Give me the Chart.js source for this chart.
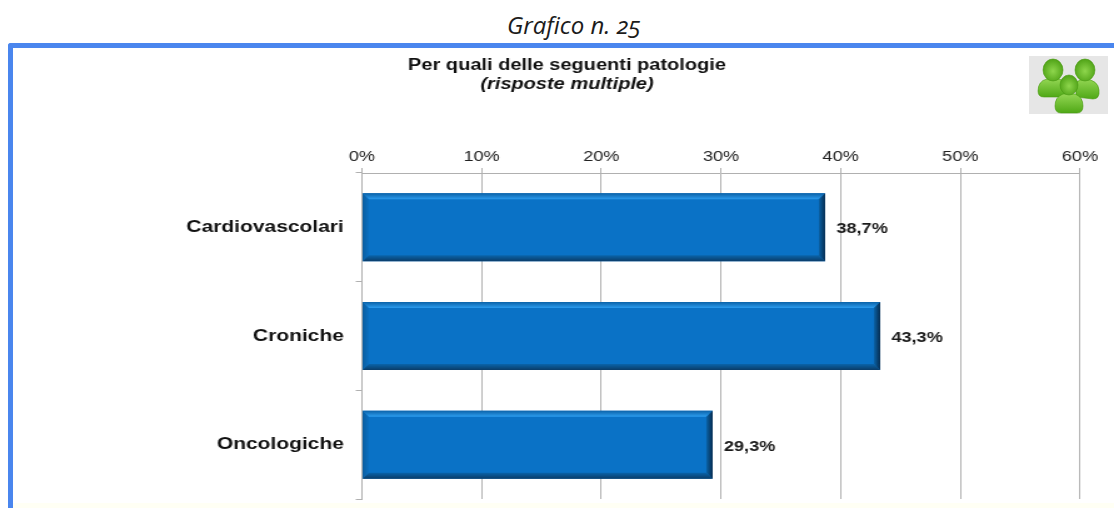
<!DOCTYPE html>
<html>
<head>
<meta charset="utf-8">
<style>
    html, body { margin: 0; padding: 0; background: #fff; overflow: hidden; }
    #page { position: relative; width: 1114px; height: 508px; overflow: hidden; }
    #caption { position: absolute; left: 0; width: 1148px; top: 8px; text-align: center; font: italic 24px "Open Sans"; font-variant-numeric: oldstyle-nums; color: #1c1c1c; }
    #frame { position: absolute; left: 8px; top: 43px; width: 1200px; height: 600px; box-sizing: border-box; border-left: 5px solid #4a86ee; border-top: 5px solid #4a86ee; border-top-left-radius: 3px; }
    #floor { position: absolute; left: 13px; right: 0; top: 503px; height: 5px; background: #fffff4; }
    #icon { position: absolute; left: 1029px; top: 56px; width: 79px; height: 58px; background: #e6e6e6; }
    /* the reference is a picture stretched sideways, so the canvas is too */
    #speedChart { position: absolute; left: 0; top: 0; transform-origin: 0 0; }
</style>
</head>
<body>
<div id="page">
    <div id="caption">Grafico n. 25</div>
    <div id="frame"></div>
    <div id="floor"></div>
    <svg id="icon" viewBox="0 0 79 58">
        <defs>
            <linearGradient id="body" x1="0" y1="0" x2="0" y2="1">
                <stop offset="0" stop-color="#93d653"/>
                <stop offset="1" stop-color="#4fa816"/>
            </linearGradient>
            <radialGradient id="head" cx="0.5" cy="0.55" r="0.6">
                <stop offset="0" stop-color="#8ed64c"/>
                <stop offset="1" stop-color="#4a9e12"/>
            </radialGradient>
        </defs>
        <g stroke="#4a9a14" stroke-width="0.6">
            <path fill="url(#body)" d="M47 41 L47 27 Q50 23 56 23 Q69 24 70 34 Q71 43 64 43 Z"/>
            <ellipse fill="url(#head)" cx="56" cy="14" rx="10" ry="11"/>
            <path fill="url(#body)" d="M9 35 Q9 25 18 23 L30 23 Q39 25 39 35 Q39 41 33 41 L15 41 Q9 41 9 35 Z"/>
            <ellipse fill="url(#head)" cx="24" cy="14" rx="10" ry="11"/>
            <path fill="url(#body)" d="M26 50 Q26 41 34 38 L46 38 Q54 41 54 50 Q54 57 48 57 L32 57 Q26 57 26 50 Z"/>
            <ellipse fill="url(#head)" cx="40" cy="29" rx="9" ry="10"/>
        </g>
    </svg>
    <canvas id="speedChart" width="891" height="508"></canvas>
</div>
<script src="https://cdn.jsdelivr.net/npm/chart.js@4"></script>
<script>
const categories = ['Cardiovascolari', 'Croniche', 'Oncologiche'];
const percentages = [38.7, 43.3, 29.3];
const tickValues = [0, 10, 20, 30, 40, 50, 60];
const titleText = 'Per quali delle seguenti patologie';
const subtitleText = '(risposte multiple)';

const sansFont = '"Liberation Sans", Arial, sans-serif';
const gridColor = '#b0b0b0';
const stretch = 1114 / 891;

const canvas = document.getElementById('speedChart');
canvas.style.transform = `scaleX(${stretch})`;

function formatPercent(v) {
    return v.toFixed(1).replace('.', ',') + '%';
}

// Bevel edges + value labels, the library has no such thing built in
const bevelPlugin = {
    id: 'bevel',
    afterDatasetsDraw(chart) {
        const c = chart.ctx;
        const meta = chart.getDatasetMeta(0);
        meta.data.forEach((bar, i) => {
            const l = bar.base, r = bar.x, t = bar.y - bar.height / 2, b = bar.y + bar.height / 2;
            const ex = 5, ey = 6;
            const side = (pts, grad) => {
                c.fillStyle = grad;
                c.beginPath();
                pts.forEach((p, n) => n ? c.lineTo(p[0], p[1]) : c.moveTo(p[0], p[1]));
                c.closePath();
                c.fill();
            };
            const ramp = (x0, y0, x1, y1, from, to) => {
                const g = c.createLinearGradient(x0, y0, x1, y1);
                g.addColorStop(0, from);
                g.addColorStop(1, to);
                return g;
            };
            side([[l, t], [l, b], [l + ex, b - ey], [l + ex, t + ey]], ramp(l, 0, l + ex, 0, '#0a5d9f', '#0a70c2'));
            side([[l, t], [r, t], [r - ex, t + ey], [l + ex, t + ey]], ramp(0, t, 0, t + ey, '#0b62a8', '#2c9cee'));
            side([[l, b], [r, b], [r - ex, b - ey], [l + ex, b - ey]], ramp(0, b - ey, 0, b, '#0a64aa', '#0a3c68'));
            side([[r, t], [r, b], [r - ex, b - ey], [r - ex, t + ey]], ramp(r - ex, 0, r, 0, '#0a62a6', '#062c50'));
            c.save();
            c.fillStyle = '#1a1a1a';
            c.font = 'bold 14.5px ' + sansFont;
            c.textBaseline = 'middle';
            c.fillText(formatPercent(percentages[i]), r + 9, bar.y + 2);
            c.restore();
        });
    }
};

const chart = new Chart(canvas.getContext('2d'), {
    type: 'bar',
    data: {
        labels: categories,
        datasets: [{
            data: percentages,
            backgroundColor: '#0a72c6',
            barPercentage: 0.626,
            categoryPercentage: 1
        }]
    },
    plugins: [bevelPlugin],
    options: {
        indexAxis: 'y',
        responsive: false,
        animation: false,
        layout: { padding: { left: 54 / stretch, right: 34 / stretch, top: 53, bottom: 9 } },
        plugins: {
            legend: { display: false },
            tooltip: { enabled: false },
            title: {
                display: true,
                text: titleText,
                color: '#111',
                font: { family: sansFont, size: 16, weight: 'bold', lineHeight: 1.2 },
                padding: { top: 3, bottom: 0 }
            },
            subtitle: {
                display: true,
                text: subtitleText,
                color: '#111',
                font: { family: sansFont, size: 16, weight: 'bold', style: 'italic', lineHeight: 1.2 },
                padding: { top: 0, bottom: 0 }
            }
        },
        scales: {
            x: {
                position: 'top',
                min: 0,
                max: 60,
                afterBuildTicks(axis) { axis.ticks = tickValues.map(v => ({ value: v })); },
                afterFit(axis) { axis.height = 78.6; },
                border: { color: gridColor },
                grid: { color: gridColor, tickLength: 5 },
                ticks: {
                    color: '#222',
                    padding: 2,
                    maxRotation: 0,
                    font: { family: sansFont, size: 14.5 },
                    callback: v => v + '%'
                }
            },
            y: {
                afterFit(axis) {
                    axis.width = 308 / stretch;
                    axis.paddingTop = 0;
                    axis.paddingBottom = 0;
                },
                border: { color: gridColor },
                grid: { color: gridColor, tickLength: 5, drawOnChartArea: false },
                ticks: {
                    color: '#111',
                    padding: 9.5,
                    font: { family: sansFont, size: 16.8, weight: 'bold' }
                }
            }
        }
    }
});
</script>
</body>
</html>
